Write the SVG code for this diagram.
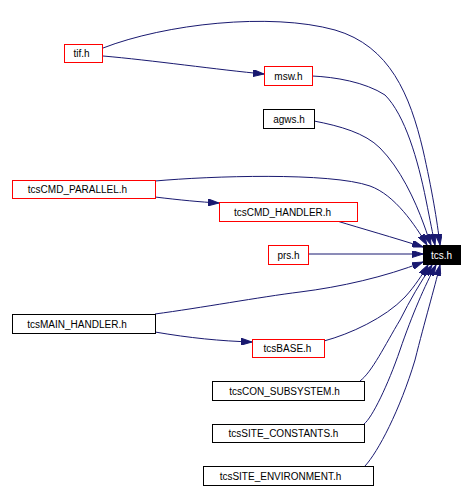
<svg xmlns="http://www.w3.org/2000/svg" width="474" height="487" viewBox="0 0 474 487">
<style>
.n rect{fill:#fff;stroke-width:1}
.r rect{stroke:#ff0000}
.b rect{stroke:#000}
text{font-family:"Liberation Sans",Arial,sans-serif;font-size:10px;text-anchor:middle;fill:#000}
#edges path{fill:none;stroke:#191970;stroke-width:1;marker-end:url(#ah)}
</style>
<defs>
<marker id="ah" viewBox="0 0 11 7" refX="11" refY="3.5" markerWidth="11" markerHeight="7" markerUnits="userSpaceOnUse" orient="auto">
<path d="M0,0 L11,3.5 L0,7 z" fill="#191970" stroke="#191970" stroke-width="1"/>
</marker>
</defs>
<rect width="474" height="487" fill="#fff"/>
<g id="edges">
<path d="M103,48 C165,24 270,12 335,30 C390,46 410,95 423,150 C432,190 437,220 440,245"/>
<path d="M312,76 C335,77 365,82 385,95 C405,115 418,160 426,200 C430,220 433,235 435,245"/>
<path d="M314,121 C340,126 365,133 380,148 C400,168 415,200 424,225 C427,233 429,240 431,245"/>
<path d="M155,181 C210,176 330,172 370,186 C395,195 415,225 427,245"/>
<path d="M337,221 C360,228 395,238 423,247"/>
<path d="M308,254 L423,254"/>
<path d="M155,314 C200,308 260,297 300,292 C340,287 385,277 423,262"/>
<path d="M324,341 C350,334 385,318 405,297 C415,286 422,275 428,265"/>
<path d="M360,381 C372,372 385,345 400,320 C410,300 420,283 432,265"/>
<path d="M364,424 C372,418 388,385 400,350 C412,315 425,285 436,265"/>
<path d="M365,466 C378,452 400,410 415,360 C425,320 434,290 440,265"/>
<path d="M103,56 C150,60 220,70 264,74"/>
<path d="M155,197 C180,200 200,202 219,203"/>
<path d="M155,332 C190,338 220,341 252,342"/>
</g>
<g id="tif" class="n r"><rect x="64.5" y="44.5" width="38" height="18"/><text x="81.5" y="57">tif.h</text></g>
<g id="msw" class="n r"><rect x="264.5" y="66.5" width="48" height="19"/><text x="288.5" y="79.5">msw.h</text></g>
<g id="agws" class="n b"><rect x="263.5" y="109.5" width="51" height="19"/><text x="289" y="122.5">agws.h</text></g>
<g id="parallel" class="n r"><rect x="12.5" y="180.5" width="143" height="18"/><text x="77.5" y="193">tcsCMD_PARALLEL.h</text></g>
<g id="cmdhandler" class="n r"><rect x="219.5" y="202.5" width="138" height="19"/><text x="282.5" y="215.5">tcsCMD_HANDLER.h</text></g>
<g id="prs" class="n r"><rect x="268.5" y="245.5" width="40" height="19"/><text x="288.5" y="258.5">prs.h</text></g>
<g id="tcs"><rect x="423" y="245" width="38" height="20" fill="#000"/><text x="441.5" y="258.5" style="fill:#fff">tcs.h</text></g>
<g id="mainhandler" class="n b"><rect x="12.5" y="314.5" width="143" height="19"/><text x="77" y="327.5">tcsMAIN_HANDLER.h</text></g>
<g id="base" class="n r"><rect x="252.5" y="339.5" width="72" height="18"/><text x="287.5" y="352">tcsBASE.h</text></g>
<g id="consub" class="n b"><rect x="212.5" y="381.5" width="152" height="19"/><text x="284.5" y="394.5">tcsCON_SUBSYSTEM.h</text></g>
<g id="siteconst" class="n b"><rect x="212.5" y="424.5" width="152" height="18"/><text x="283.5" y="437">tcsSITE_CONSTANTS.h</text></g>
<g id="siteenv" class="n b"><rect x="203.5" y="466.5" width="170" height="19"/><text x="280.5" y="479.5">tcsSITE_ENVIRONMENT.h</text></g>
</svg>
